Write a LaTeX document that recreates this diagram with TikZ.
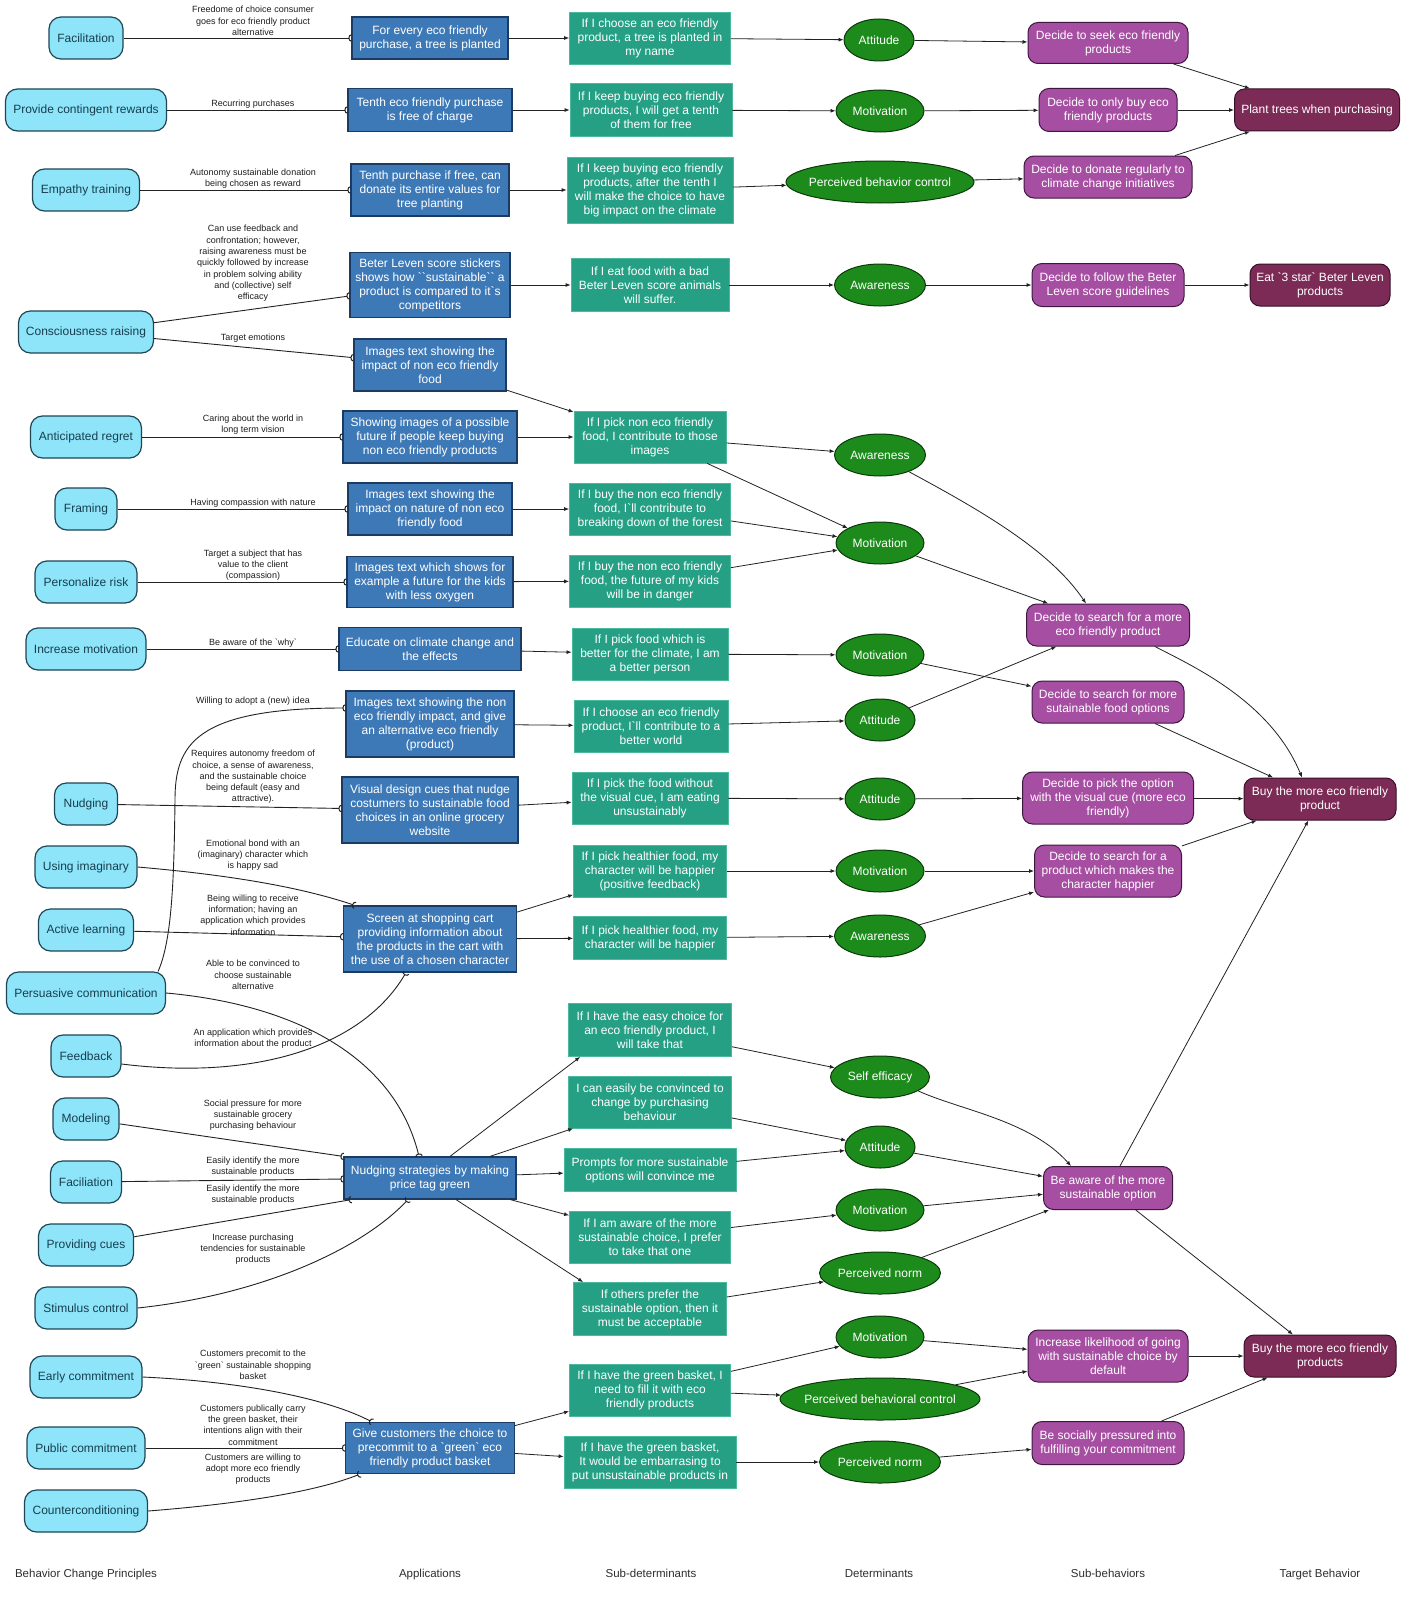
\documentclass[tikz,border=0pt]{standalone}
\usepackage{fontspec}
\newfontfamily\ls{Liberation Sans}
\usetikzlibrary{arrows.meta,shapes.geometric,calc}
\definecolor{prfill}{HTML}{8EE5FA}
\definecolor{prdraw}{HTML}{1E4655}
\definecolor{prtext}{HTML}{173E4E}
\definecolor{apfill}{HTML}{3E79B7}
\definecolor{apdraw}{HTML}{1B3B63}
\definecolor{sdfill}{HTML}{25A084}
\definecolor{sddraw}{HTML}{4CB89C}
\definecolor{defill}{HTML}{1C8B1C}
\definecolor{dedraw}{HTML}{0A3A0A}
\definecolor{sbfill}{HTML}{A64FA2}
\definecolor{sbdraw}{HTML}{3E1640}
\definecolor{tbfill}{HTML}{7B2B55}
\definecolor{tbdraw}{HTML}{38102A}
\definecolor{linec}{HTML}{222222}
\definecolor{labc}{HTML}{1E1E1E}
\definecolor{hdc}{HTML}{2E2E2E}
\tikzset{
  basenode/.style={font=\ls\fontsize{12}{14}\selectfont, align=center, inner sep=2pt},
  pr/.style={basenode, draw=prdraw, line width=1.2pt, fill=prfill, rounded corners=12pt, text=prtext, minimum height=42pt},
  ap/.style={basenode, draw=apdraw, line width=1.2pt, fill=apfill, text=white},
  sd/.style={basenode, draw=sddraw, line width=0.8pt, fill=sdfill, text=white},
  de/.style={basenode, ellipse, draw=dedraw, line width=1pt, fill=defill, text=white, inner sep=0pt, minimum height=42pt},
  sb/.style={basenode, draw=sbdraw, line width=1pt, fill=sbfill, rounded corners=10pt, text=white},
  tb/.style={basenode, draw=tbdraw, line width=1pt, fill=tbfill, rounded corners=10pt, text=white, minimum height=42pt},
  lab/.style={font=\ls\fontsize{9}{11.3}\selectfont, align=center, text=labc, inner sep=0pt},
  hd/.style={font=\ls\fontsize{11.5}{13}\selectfont, text=hdc, text height=9pt, text depth=2.5pt},
  rel/.style={draw=linec, line width=0.9pt, -{Arc Barb[reversed,length=3pt,width=7.5pt,line width=1pt]}},
  arr/.style={draw=linec, line width=0.8pt, -{Latex[length=5pt,width=4pt]}},
}
\begin{document}
\begin{tikzpicture}[x=1pt,y=-1pt]
\fill[white] (0,0) rectangle (1404,1600);
\useasboundingbox (0,0) rectangle (1404,1600);

% Behavior change principles
\node[pr,minimum width=74pt] (p1) at (86,38) {Facilitation};
\node[pr,minimum width=161pt] (p2) at (86,110) {Provide contingent rewards};
\node[pr,minimum width=107pt] (p3) at (86,190) {Empathy training};
\node[pr,minimum width=135pt] (p4) at (86,332) {Consciousness raising};
\node[pr,minimum width=111pt] (p5) at (86,437) {Anticipated regret};
\node[pr,minimum width=62pt] (p6) at (86,509) {Framing};
\node[pr,minimum width=102pt] (p7) at (86,582) {Personalize risk};
\node[pr,minimum width=120pt] (p8) at (86,649) {Increase motivation};
\node[pr,minimum width=63pt] (p9) at (86,804) {Nudging};
\node[pr,minimum width=102pt] (p10) at (86,867) {Using imaginary};
\node[pr,minimum width=95pt] (p11) at (86,930) {Active learning};
\node[pr,minimum width=159pt] (p12) at (86,993) {Persuasive communication};
\node[pr,minimum width=70pt] (p13) at (86,1056) {Feedback};
\node[pr,minimum width=66pt] (p14) at (86,1119) {Modeling};
\node[pr,minimum width=71pt] (p15) at (86,1182) {Faciliation};
\node[pr,minimum width=95pt] (p16) at (86,1245) {Providing cues};
\node[pr,minimum width=102pt] (p17) at (86,1308) {Stimulus control};
\node[pr,minimum width=112pt] (p18) at (86,1377) {Early commitment};
\node[pr,minimum width=118pt] (p19) at (86,1448) {Public commitment};
\node[pr,minimum width=123pt] (p20) at (86,1511) {Counterconditioning};

% Applications
\node[ap,minimum width=156pt,minimum height=42pt] (a1) at (430,38) {For every eco friendly\\purchase, a tree is planted};
\node[ap,minimum width=164pt,minimum height=43pt] (a2) at (430,110) {Tenth eco friendly purchase\\is free of charge};
\node[ap,minimum width=158pt,minimum height=52pt] (a3) at (430,190) {Tenth purchase if free, can\\donate its entire values for\\tree planting};
\node[ap,minimum width=160pt,minimum height=65pt] (a4) at (430,285) {Beter Leven score stickers\\shows how ``sustainable`` a\\product is compared to it`s\\competitors};
\node[ap,minimum width=152pt,minimum height=52pt] (a5) at (430,365) {Images text showing the\\impact of non eco friendly\\food};
\node[ap,minimum width=174pt,minimum height=52pt] (a6) at (430,437) {Showing images of a possible\\future if people keep buying\\non eco friendly products};
\node[ap,minimum width=164pt,minimum height=52pt] (a7) at (430,509) {Images text showing the\\impact on nature of non eco\\friendly food};
\node[ap,minimum width=166pt,minimum height=51pt] (a8) at (430,582) {Images text which shows for\\example a future for the kids\\with less oxygen};
\node[ap,minimum width=182pt,minimum height=43pt] (a9) at (430,649) {Educate on climate change and\\the effects};
\node[ap,minimum width=168pt,minimum height=66pt] (a10) at (430,724) {Images text showing the non\\eco friendly impact, and give\\an alternative eco friendly\\(product)};
\node[ap,minimum width=176pt,minimum height=66pt] (a11) at (430,810) {Visual design cues that nudge\\costumers to sustainable food\\choices in an online grocery\\website};
\node[ap,minimum width=173pt,minimum height=66pt] (a12) at (430,939) {Screen at shopping cart\\providing information about\\the products in the cart with\\the use of a chosen character};
\node[ap,minimum width=172pt,minimum height=42pt] (a13) at (430,1178) {Nudging strategies by making\\price tag green};
\node[ap,minimum width=169pt,minimum height=51pt] (a14) at (430,1448) {Give customers the choice to\\precommit to a `green` eco\\friendly product basket};

% Sub-determinants
\node[sd,minimum width=161pt,minimum height=52pt] (s1) at (650,38) {If I choose an eco friendly\\product, a tree is planted in\\my name};
\node[sd,minimum width=162pt,minimum height=53pt] (s2) at (651,110) {If I keep buying eco friendly\\products, I will get a tenth\\of them for free};
\node[sd,minimum width=166pt,minimum height=66pt] (s3) at (650,190) {If I keep buying eco friendly\\products, after the tenth I\\will make the choice to have\\big impact on the climate};
\node[sd,minimum width=158pt,minimum height=53pt] (s4) at (650,285) {If I eat food with a bad\\Beter Leven score animals\\will suffer.};
\node[sd,minimum width=152pt,minimum height=52pt] (s5) at (650,437) {If I pick non eco friendly\\food, I contribute to those\\images};
\node[sd,minimum width=161pt,minimum height=52pt] (s6) at (650,509) {If I buy the non eco friendly\\food, I`ll contribute to\\breaking down of the forest};
\node[sd,minimum width=161pt,minimum height=52pt] (s7) at (650,581) {If I buy the non eco friendly\\food, the future of my kids\\will be in danger};
\node[sd,minimum width=156pt,minimum height=52pt] (s8) at (650,654) {If I pick food which is\\better for the climate, I am\\a better person};
\node[sd,minimum width=154pt,minimum height=52pt] (s9) at (651,726) {If I choose an eco friendly\\product, I`ll contribute to a\\better world};
\node[sd,minimum width=156pt,minimum height=52pt] (s10) at (650,798) {If I pick the food without\\the visual cue, I am eating\\unsustainably};
\node[sd,minimum width=153pt,minimum height=52pt] (s11) at (650,871) {If I pick healthier food, my\\character will be happier\\(positive feedback)};
\node[sd,minimum width=153pt,minimum height=43pt] (s12) at (650,938) {If I pick healthier food, my\\character will be happier};
\node[sd,minimum width=163pt,minimum height=53pt] (s13) at (650,1030) {If I have the easy choice for\\an eco friendly product, I\\will take that};
\node[sd,minimum width=163pt,minimum height=52pt] (s14) at (650,1102) {I can easily be convinced to\\change by purchasing\\behaviour};
\node[sd,minimum width=172pt,minimum height=43pt] (s15) at (650,1170) {Prompts for more sustainable\\options will convince me};
\node[sd,minimum width=161pt,minimum height=52pt] (s16) at (650,1237) {If I am aware of the more\\sustainable choice, I prefer\\to take that one};
\node[sd,minimum width=153pt,minimum height=53pt] (s17) at (650,1309) {If others prefer the\\sustainable option, then it\\must be acceptable};
\node[sd,minimum width=161pt,minimum height=52pt] (s18) at (650,1390) {If I have the green basket, I\\need to fill it with eco\\friendly products};
\node[sd,minimum width=172pt,minimum height=52pt] (s19) at (650,1462) {If I have the green basket,\\It would be embarrasing to\\put unsustainable products in};

% Determinants
\node[de,minimum width=70pt] (d1) at (879,40) {\makebox[0pt]{Attitude}};
\node[de,minimum width=88pt] (d2) at (880,111) {\makebox[0pt]{Motivation}};
\node[de,minimum width=188pt] (d3) at (880,182) {\makebox[0pt]{Perceived behavior control}};
\node[de,minimum width=91pt] (d4) at (880,285) {\makebox[0pt]{Awareness}};
\node[de,minimum width=91pt] (d5) at (880,455) {\makebox[0pt]{Awareness}};
\node[de,minimum width=88pt] (d6) at (880,543) {\makebox[0pt]{Motivation}};
\node[de,minimum width=88pt] (d7) at (880,655) {\makebox[0pt]{Motivation}};
\node[de,minimum width=70pt] (d8) at (880,720) {\makebox[0pt]{Attitude}};
\node[de,minimum width=70pt] (d9) at (880,799) {\makebox[0pt]{Attitude}};
\node[de,minimum width=88pt] (d10) at (880,871) {\makebox[0pt]{Motivation}};
\node[de,minimum width=91pt] (d11) at (880,936) {\makebox[0pt]{Awareness}};
\node[de,minimum width=99pt] (d12) at (880,1077) {\makebox[0pt]{Self efficacy}};
\node[de,minimum width=70pt] (d13) at (880,1147) {\makebox[0pt]{Attitude}};
\node[de,minimum width=88pt] (d14) at (880,1210) {\makebox[0pt]{Motivation}};
\node[de,minimum width=121pt] (d15) at (880,1273) {\makebox[0pt]{Perceived norm}};
\node[de,minimum width=88pt] (d16) at (880,1337) {\makebox[0pt]{Motivation}};
\node[de,minimum width=200pt] (d17) at (880,1399) {\makebox[0pt]{Perceived behavioral control}};
\node[de,minimum width=121pt] (d18) at (880,1462) {\makebox[0pt]{Perceived norm}};

% Sub-behaviors
\node[sb,minimum width=160pt,minimum height=41pt] (b1) at (1108,43) {Decide to seek eco friendly\\products};
\node[sb,minimum width=138pt,minimum height=43pt] (b2) at (1108,110) {Decide to only buy eco\\friendly products};
\node[sb,minimum width=168pt,minimum height=42pt] (b3) at (1108,177) {Decide to donate regularly to\\climate change initiatives};
\node[sb,minimum width=152pt,minimum height=43pt] (b4) at (1108,285) {Decide to follow the Beter\\Leven score guidelines};
\node[sb,minimum width=163pt,minimum height=42pt] (b5) at (1108,625) {Decide to search for a more\\eco friendly product};
\node[sb,minimum width=152pt,minimum height=42pt] (b6) at (1108,702) {Decide to search for more\\sutainable food options};
\node[sb,minimum width=171pt,minimum height=52pt] (b7) at (1108,798) {Decide to pick the option\\with the visual cue (more eco\\friendly)};
\node[sb,minimum width=147pt,minimum height=52pt] (b8) at (1108,871) {Decide to search for a\\product which makes the\\character happier};
\node[sb,minimum width=129pt,minimum height=43pt] (b9) at (1108,1188) {Be aware of the more\\sustainable option};
\node[sb,minimum width=160pt,minimum height=52pt] (b10) at (1108,1356) {Increase likelihood of going\\with sustainable choice by\\default};
\node[sb,minimum width=152pt,minimum height=43pt] (b11) at (1108,1443) {Be socially pressured into\\fulfilling your commitment};

% Target behaviors
\node[tb,minimum width=165pt] (t1) at (1317,110) {Plant trees when purchasing};
\node[tb,minimum width=140pt] (t2) at (1320,285) {Eat `3 star` Beter Leven\\products};
\node[tb,minimum width=152pt] (t3) at (1320,799) {Buy the more eco friendly\\product};
\node[tb,minimum width=152pt] (t4) at (1320,1356) {Buy the more eco friendly\\products};

% Edge labels
\node[lab] (l1) at (253,21) {Freedome of choice consumer\\goes for eco friendly product\\alternative};
\node[lab] (l2) at (253,104) {Recurring purchases};
\node[lab] (l3) at (253,179) {Autonomy sustainable donation\\being chosen as reward};
\node[lab] (l4) at (253,263.5) {Can use feedback and\\confrontation; however,\\raising awareness must be\\quickly followed by increase\\in problem solving ability\\and (collective) self\\efficacy};
\node[lab] (l5) at (253,338) {Target emotions};
\node[lab] (l6) at (253,425) {Caring about the world in\\long term vision};
\node[lab] (l7) at (253,503) {Having compassion with nature};
\node[lab] (l8) at (253,565) {Target a subject that has\\value to the client\\(compassion)};
\node[lab] (l9) at (253,643) {Be aware of the `why`};
\node[lab] (l10) at (253,701) {Willing to adopt a (new) idea};
\node[lab] (l11) at (253,777) {Requires autonomy freedom of\\choice, a sense of awareness,\\and the sustainable choice\\being default (easy and\\attractive).};
\node[lab] (l12) at (253,855) {Emotional bond with an\\(imaginary) character which\\is happy sad};
\node[lab] (l13) at (253,915) {Being willing to receive\\information; having an\\application which provides\\information};
\node[lab] (l14) at (253,975) {Able to be convinced to\\choose sustainable\\alternative};
\node[lab] (l15) at (253,1039) {An application which provides\\information about the product};
\node[lab] (l16) at (253,1115) {Social pressure for more\\sustainable grocery\\purchasing behaviour};
\node[lab] (l17) at (253,1167) {Easily identify the more\\sustainable products};
\node[lab] (l18) at (253,1195) {Easily identify the more\\sustainable products};
\node[lab] (l19) at (253,1249) {Increase purchasing\\tendencies for sustainable\\products};
\node[lab] (l20) at (253,1365) {Customers precomit to the\\`green` sustainable shopping\\basket};
\node[lab] (l21) at (253,1425) {Customers publically carry\\the green basket, their\\intentions align with their\\commitment};
\node[lab] (l22) at (253,1469) {Customers are willing to\\adopt more eco friendly\\products};

% Column headers
\node[hd] (h1) at (86,1574) {Behavior Change Principles};
\node[hd] (h2) at (430,1574) {Applications};
\node[hd] (h3) at (651,1574) {Sub-determinants};
\node[hd] (h4) at (879,1574) {Determinants};
\node[hd] (h5) at (1108,1574) {Sub-behaviors};
\node[hd] (h6) at (1320,1574) {Target Behavior};

% Principles -> applications
\draw[rel] (p1) -- (a1);
\draw[rel] (p2) -- (a2);
\draw[rel] (p3) -- (a3);
\draw[rel] (p4) -- (a4);
\draw[rel] (p4) -- (a5);
\draw[rel] (p5) -- (a6);
\draw[rel] (p6) -- (a7);
\draw[rel] (p7) -- (a8);
\draw[rel] (p8) -- (a9);
\draw[rel] ([xshift=-8pt]p12.north east) .. controls (172,940) and (174,880) .. (175,800) .. controls (175,745) and (195,708) .. ([yshift=16pt]a10.west);
\draw[rel] (p9) -- (a11);
\draw[rel] (p10.east) .. controls (230,875) and (300,887) .. ([xshift=-75pt]a12.north);
\draw[rel] (p11) -- (a12);
\draw[rel] (p12.east) .. controls (300,1005) and (395,1060) .. ([xshift=-11pt]a13.north);
\draw[rel] ([yshift=-8pt]p13.east) .. controls (250,1080) and (360,1050) .. ([xshift=-24pt]a12.south);
\draw[rel] (p14) -- (a13.north west);
\draw[rel] (p15) -- (a13);
\draw[rel] (p16) -- ([xshift=8pt]a13.south west);
\draw[rel] (p17.east) .. controls (260,1295) and (360,1250) .. ([xshift=-22pt]a13.south);
\draw[rel] (p18.east) .. controls (250,1382) and (330,1400) .. ([xshift=-58pt]a14.north);
\draw[rel] (p19) -- (a14);
\draw[rel] (p20.east) .. controls (250,1503) and (320,1490) .. ([xshift=-70pt]a14.south);

% Applications -> sub-determinants
\draw[arr] (a1) -- (s1);
\draw[arr] (a2) -- (s2);
\draw[arr] (a3) -- (s3);
\draw[arr] (a4) -- (s4);
\draw[arr] (a5) -- (s5);
\draw[arr] (a6) -- (s5);
\draw[arr] (a7) -- (s6);
\draw[arr] (a8) -- (s7);
\draw[arr] (a9) -- (s8);
\draw[arr] (a10) -- (s9);
\draw[arr] (a11) -- (s10);
\draw[arr] (a12) -- (s11);
\draw[arr] (a12) -- (s12);
\draw[arr] ([xshift=20pt]a13.north) -- ([xshift=12pt]s13.south west);
\draw[arr] ([xshift=60pt]a13.north) -- ([xshift=5pt]s14.south west);
\draw[arr] (a13) -- (s15);
\draw[arr] (a13) -- (s16);
\draw[arr] ([xshift=26pt]a13.south) -- ([xshift=10pt]s17.north west);
\draw[arr] (a14) -- (s18);
\draw[arr] (a14) -- (s19);

% Sub-determinants -> determinants
\draw[arr] (s1) -- (d1);
\draw[arr] (s2) -- (d2);
\draw[arr] (s3) -- (d3);
\draw[arr] (s4) -- (d4);
\draw[arr] (s5) -- (d5);
\draw[arr] (s5) -- (d6);
\draw[arr] (s6) -- (d6);
\draw[arr] (s7) -- (d6);
\draw[arr] (s8) -- (d7);
\draw[arr] (s9) -- (d8);
\draw[arr] (s10) -- (d9);
\draw[arr] (s11) -- (d10);
\draw[arr] (s12) -- (d11);
\draw[arr] (s13) -- (d12);
\draw[arr] (s14) -- (d13);
\draw[arr] (s15) -- (d13);
\draw[arr] (s16) -- (d14);
\draw[arr] (s17) -- (d15);
\draw[arr] (s18) -- (d16);
\draw[arr] (s18) -- (d17);
\draw[arr] (s19) -- (d18);

% Determinants -> sub-behaviors
\draw[arr] (d1) -- (b1);
\draw[arr] (d2) -- (b2);
\draw[arr] (d3) -- (b3);
\draw[arr] (d4) -- (b4);
\draw[arr] (d5.-30) .. controls (980,510) and (1050,550) .. ([xshift=-22pt]b5.north);
\draw[arr] (d6) -- (b5);
\draw[arr] (d7) -- (b6);
\draw[arr] (d8) -- (b5);
\draw[arr] (d9) -- (b7);
\draw[arr] (d10) -- (b8);
\draw[arr] (d11) -- (b8);
\draw[arr] (d12.-20) .. controls (960,1110) and (1030,1120) .. ([xshift=-37pt]b9.north);
\draw[arr] (d13) -- (b9);
\draw[arr] (d14) -- (b9);
\draw[arr] (d15) -- (b9);
\draw[arr] (d16) -- (b10);
\draw[arr] (d17) -- (b10);
\draw[arr] (d18) -- (b11);

% Sub-behaviors -> target behaviors
\draw[arr] (b1) -- (t1);
\draw[arr] (b2) -- (t1);
\draw[arr] (b3) -- (t1);
\draw[arr] (b4) -- (t2);
\draw[arr] ([xshift=47pt]b5.south) .. controls (1190,665) and (1270,700) .. ([xshift=-18pt]t3.north);
\draw[arr] (b6) -- (t3);
\draw[arr] (b7) -- (t3);
\draw[arr] (b8) -- (t3);
\draw[arr] (b9) -- (t3);
\draw[arr] (b9) -- (t4);
\draw[arr] (b10) -- (t4);
\draw[arr] (b11) -- (t4);
\end{tikzpicture}
\end{document}
